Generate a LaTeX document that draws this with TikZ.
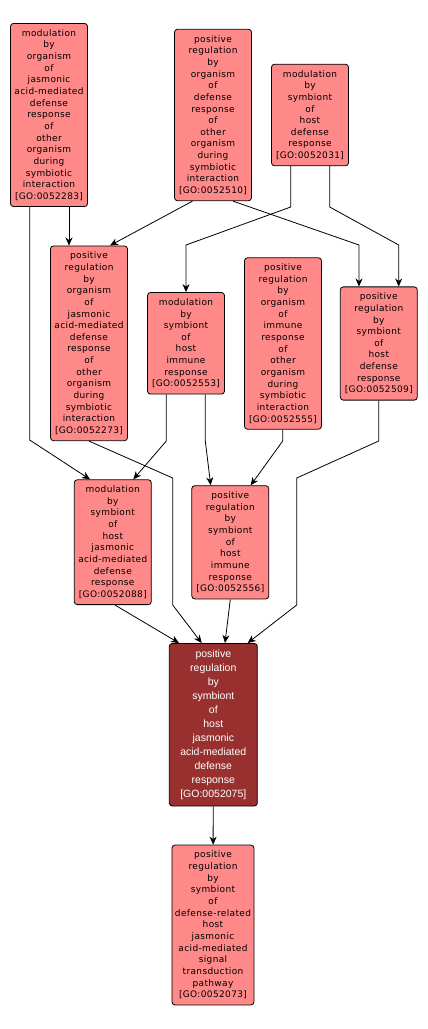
\documentclass[tikz,border=0pt]{standalone}
\usepackage{fontspec}
\usetikzlibrary{arrows.meta}
\newfontfamily\termfont[LetterSpace=4]{DejaVu Sans}
\newfontfamily\focusfont{Liberation Sans}
\definecolor{termfill}{RGB}{255,137,137}
\definecolor{focusfill}{RGB}{153,48,48}

\begin{document}
\begin{tikzpicture}[x=1pt, y=-1pt, ->, >={Stealth[length=8pt,width=7pt,inset=2.5pt]}, line width=0.8pt,
	term/.style={draw=black, rounded corners=3pt, fill=termfill, align=center, minimum width=77pt, inner xsep=3pt, inner ysep=6pt, font=\termfont\fontsize{9}{11.65}\selectfont},
	focus/.style={term, fill=focusfill, text=white, minimum width=88pt, inner ysep=6.4pt, font=\focusfont\fontsize{10.5}{14}\selectfont}]

		\useasboundingbox (0,0) rectangle (428,1029);

		\node (52283) [term] at (49,115) {modulation\\by\\organism\\of\\jasmonic\\acid-mediated\\defense\\response\\of\\other\\organism\\during\\symbiotic\\interaction\\{[GO:0052283]}};
		\node (52510) [term] at (213,115) {positive\\regulation\\by\\organism\\of\\defense\\response\\of\\other\\organism\\during\\symbiotic\\interaction\\{[GO:0052510]}};
		\node (52031) [term] at (310,115) {modulation\\by\\symbiont\\of\\host\\defense\\response\\{[GO:0052031]}};
		\node (52273) [term] at (89,343.3) {positive\\regulation\\by\\organism\\of\\jasmonic\\acid-mediated\\defense\\response\\of\\other\\organism\\during\\symbiotic\\interaction\\{[GO:0052273]}};
		\node (52553) [term] at (186,343.3) {modulation\\by\\symbiont\\of\\host\\immune\\response\\{[GO:0052553]}};
		\node (52555) [term] at (283,343.5) {positive\\regulation\\by\\organism\\of\\immune\\response\\of\\other\\organism\\during\\symbiotic\\interaction\\{[GO:0052555]}};
		\node (52509) [term] at (378.8,343.5) {positive\\regulation\\by\\symbiont\\of\\host\\defense\\response\\{[GO:0052509]}};
		\node (52088) [term] at (112.8,542.2) {modulation\\by\\symbiont\\of\\host\\jasmonic\\acid-mediated\\defense\\response\\{[GO:0052088]}};
		\node (52556) [term] at (230.3,542.3) {positive\\regulation\\by\\symbiont\\of\\host\\immune\\response\\{[GO:0052556]}};
		\node (52075) [focus] at (213.3,724.7) {positive\\regulation\\by\\symbiont\\of\\host\\jasmonic\\acid-mediated\\defense\\response\\{[GO:0052075]}};
		\node (52073) [term] at (213,925) {positive\\regulation\\by\\symbiont\\of\\defense-related\\host\\jasmonic\\acid-mediated\\signal\\transduction\\pathway\\{[GO:0052073]}};

			\path
				([xshift=20pt]52283.south) edge ([xshift=-20pt]52273.north)
				([xshift=-20.5pt]52510.south) edge ([xshift=21pt]52273.north)
				([xshift=2.2pt]52088.south) edge ([xshift=-34.3pt]52075.north)
				(52556.south) edge ([xshift=11.7pt]52075.north)
				(52075) edge (52073);

			% routed connectors
			\draw ([xshift=-19.3pt]52283.south) -- (29.7,440) -- ([xshift=-22.8pt]52088.north);
			\draw ([xshift=20pt]52510.south) -- (359,245) -- ([xshift=-19.8pt]52509.north);
			\draw ([xshift=-19.3pt]52031.south) -- (290.7,207) -- (186,245) -- (52553.north);
			\draw ([xshift=19.7pt]52031.south) -- (329.7,207) -- (398.7,245) -- ([xshift=19.9pt]52509.north);
			\draw (52273.south) -- (172.7,478) -- (172.7,605) -- ([xshift=-11.6pt]52075.north);
			\draw ([xshift=-19.7pt]52553.south) -- (166.3,441) -- ([xshift=20.5pt]52088.north);
			\draw ([xshift=19.3pt]52553.south) -- (205.3,441) -- ([xshift=-19.6pt]52556.north);
			\draw ([xshift=-0.3pt]52555.south) -- (282.7,441) -- ([xshift=20.4pt]52556.north);
			\draw (52509.south) -- (378.8,441) -- (296.7,478) -- (296.7,605) -- ([xshift=34.4pt]52075.north);

\end{tikzpicture}
\end{document}
